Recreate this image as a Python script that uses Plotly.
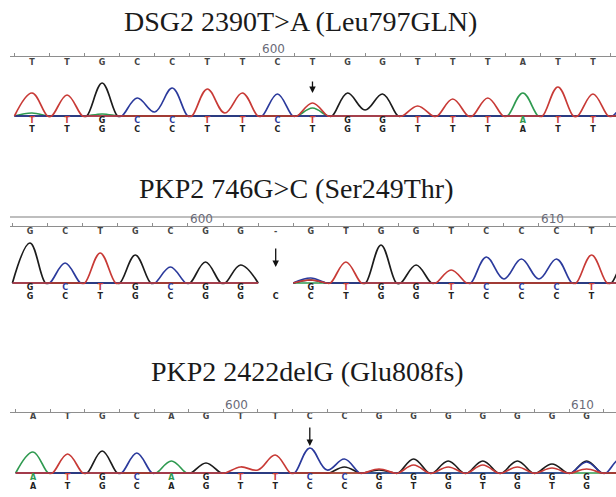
import plotly.graph_objects as go

W, H = 616, 497

# ---------------- data ----------------
# Panel 1 : DSG2
P1_TITLE = "DSG2 2390T>A (Leu797GLN)"
P1_TOP = list("TTGCCTTCTGGTTTATTC")
P1_COLOR = list("TTGCCTTCTGGTTTATTC")
P1_BLACK = list("TTGCCTTCTGGTTTATTC")
P1_A = [3, 0, 2, 0, 0, 0, 0, 0, 8, 0, 0, 0, 0, 0, 23, 0, 0, 0]
P1_C = [0, 0, 0, 18, 28, 0, 0, 22, 0, 0, 0, 0, 0, 0, 0, 0, 0, 14]
P1_G = [0, 0, 33, 0, 0, 0, 0, 0, 0, 23, 22, 0, 0, 0, 0, 0, 0, 0]
P1_T = [23, 21, 0, 0, 0, 27, 23, 0, 13, 0, 0, 10, 17, 18, 0, 29, 22, 0]
P1_VALLEYS = [("C", 4, 4), ("T", 6, 3), ("G", 10, 6)]
P1_MARK_LABELS = ["600"]
P1_MARK_AT = [6.5]
P1_ARROW_AT = 8

# Panel 2 : PKP2 746G>C
P2_TITLE = "PKP2 746G>C (Ser249Thr)"
P2_TOP = list("GCTGCGG-GTGGTCCCTG")
P2_COLOR = list("GCTGCGG GTGGTCCCTG")
P2_BLACK = list("GCTGCGGCCTGGTCCCTG")
P2_A = [0, 0, 0, 0, 0, 0, 0, 0, 0, 0, 0, 0, 0, 0, 0, 0, 0, 0]
P2_C = [0, 20, 0, 0, 16, 0, 0, 0, 5, 0, 0, 0, 0, 26, 24, 24, 0, 0]
P2_G = [40, 0, 0, 28, 0, 21, 18, 0, 3, 0, 38, 18, 0, 0, 0, 0, 0, 25]
P2_T = [0, 0, 30, 0, 0, 0, 0, 0, 3, 21, 0, 0, 13, 0, 0, 0, 28, 0]
P2_VALLEYS = [("C", 14, 4), ("C", 15, 4)]
P2_MARK_LABELS = ["600", "610"]
P2_MARK_AT = [4.5, 14.5]
P2_ARROW_AT = 7

# Panel 3 : PKP2 2422delG
P3_TITLE = "PKP2 2422delG (Glu808fs)"
P3_TOP = list("ATGCAGTTCCGGGGGGGC")
P3_COLOR = list("ATGCAGTTCCGGGGGGGC")
P3_BLACK = list("ATGCAGTTCCGTGTGTGC")
P3_A = [21, 0, 0, 0, 12, 0, 0, 0, 0, 0, 0, 0, 0, 0, 0, 0, 0, 0]
P3_C = [0, 0, 0, 20, 0, 0, 0, 0, 25, 14, 0, 0, 0, 0, 0, 0, 11, 15]
P3_G = [0, 0, 22, 0, 0, 10, 0, 0, 0, 6, 3, 14, 12, 12, 12, 9, 12, 0]
P3_T = [0, 19, 0, 0, 0, 0, 6, 18, 0, 0, 4, 8, 6, 8, 6, 5, 4, 0]
P3_VALLEYS = [("T", 7, 3), ("C", 9, 3)]
P3_MARK_LABELS = ["600", "610"]
P3_MARK_AT = [5.5, 15.5]
P3_ARROW_AT = 8

# ---------------- style / layout ----------------
COLORS = {"A": "#2f9a50", "C": "#2b3a9c", "G": "#1c1c1c", "T": "#c83a36"}
DRAW_ORDER = ["A", "G", "C", "T"]
EPS = 0.06

PANELS = [
    dict(title=P1_TITLE, top_seq=P1_TOP, col_seq=P1_COLOR, blk_seq=P1_BLACK,
         h={"A": P1_A, "C": P1_C, "G": P1_G, "T": P1_T}, valleys=P1_VALLEYS,
         marks=(P1_MARK_LABELS, P1_MARK_AT), arrow_at=P1_ARROW_AT, arrow=(23, 36),
         top=57, base=116, bottom=136, x0=32, step=35.06,
         title_x=300, title_y=22, rows=(53, -5, -14), extra_line=None),
    dict(title=P2_TITLE, top_seq=P2_TOP, col_seq=P2_COLOR, blk_seq=P2_BLACK,
         h={"A": P2_A, "C": P2_C, "G": P2_G, "T": P2_T}, valleys=P2_VALLEYS,
         marks=(P2_MARK_LABELS, P2_MARK_AT), arrow_at=P2_ARROW_AT, arrow=(16, 36),
         top=227, base=283, bottom=305, x0=30, step=35.1,
         title_x=296, title_y=188, rows=(51, -5, -14), extra_line=217),
    dict(title=P3_TITLE, top_seq=P3_TOP, col_seq=P3_COLOR, blk_seq=P3_BLACK,
         h={"A": P3_A, "C": P3_C, "G": P3_G, "T": P3_T}, valleys=P3_VALLEYS,
         marks=(P3_MARK_LABELS, P3_MARK_AT), arrow_at=P3_ARROW_AT, arrow=(27, 47),
         top=413, base=473, bottom=497, x0=33, step=34.6,
         title_x=307, title_y=371, rows=(56, -5, -14), extra_line=None),
]

AXIS_LEFT_PX = 10


def channel_points(heights, calls, valleys, ch):
    vmap = {k: v for c, k, v in valleys if c == ch}
    xs, ys = [], []
    n = len(heights)
    for k in range(n):
        if calls[k] == "-":
            if k > 0 and calls[k - 1] != "-":
                xs.append(k - 0.5); ys.append(0)
            xs.append(None); ys.append(None)
            continue
        left_open = (k == 0) or calls[k - 1] == "-"
        if left_open:
            xs.append(k - 0.5); ys.append(0)
        elif vmap.get(k, 0):
            xs.append(k - 0.5); ys.append(vmap[k])
        else:
            xs += [k - 0.5 - EPS, k - 0.5 + EPS]; ys += [0, 0]
        xs.append(k); ys.append(heights[k])
    xs.append(n - 0.5); ys.append(0)
    return xs, ys


fig = go.Figure()
layout = dict(width=W, height=H, margin=dict(l=0, r=0, t=0, b=0), autosize=False,
              paper_bgcolor="white", plot_bgcolor="white", showlegend=False)
annotations = []
shapes = []

for i, p in enumerate(PANELS):
    sfx = "" if i == 0 else str(i + 1)
    xa, ya = "x" + sfx, "y" + sfx
    r0 = (AXIS_LEFT_PX - p["x0"]) / p["step"]
    r1 = (W - p["x0"]) / p["step"]
    layout["xaxis" + sfx] = dict(
        domain=[AXIS_LEFT_PX / W, 1], range=[r0, r1], side="top", anchor=ya,
        showline=True, linecolor="#8e8e8e", linewidth=1.5,
        ticks="outside", ticklen=3, tickwidth=1, tickcolor="#8e8e8e",
        tickvals=[k + 0.5 for k in range(-1, 18)], showticklabels=False,
        showgrid=False, zeroline=False, fixedrange=True)
    layout["yaxis" + sfx] = dict(
        domain=[1 - p["bottom"] / H, 1 - p["top"] / H],
        range=[p["base"] - p["bottom"], p["base"] - p["top"]],
        visible=False, fixedrange=True)

    for ch in DRAW_ORDER:
        xs, ys = channel_points(p["h"][ch], p["top_seq"], p["valleys"], ch)
        fig.add_trace(go.Scatter(
            x=xs, y=ys, xaxis=xa, yaxis=ya, mode="lines",
            line=dict(color=COLORS[ch], width=1.7, shape="spline",
                      smoothing=1.1, simplify=False),
            connectgaps=False, hoverinfo="skip"))

    # letter rows: only bases whose centre lies inside the picture
    n_vis = sum(1 for k in range(len(p["top_seq"])) if p["x0"] + k * p["step"] < W - 6)
    idx = list(range(n_vis))
    top_y, col_y, blk_y = p["rows"]
    fig.add_trace(go.Scatter(
        x=idx, y=[top_y] * n_vis, xaxis=xa, yaxis=ya, mode="text",
        text=p["top_seq"][:n_vis], cliponaxis=False, hoverinfo="skip",
        textfont=dict(family="DejaVu Sans", size=8, color="#444444", weight="bold")))
    fig.add_trace(go.Scatter(
        x=idx, y=[col_y] * n_vis, xaxis=xa, yaxis=ya, mode="text",
        text=p["col_seq"][:n_vis], cliponaxis=False, hoverinfo="skip",
        textfont=dict(family="DejaVu Sans", size=8, weight="bold",
                      color=[COLORS.get(c, "#555") for c in p["col_seq"][:n_vis]])))
    fig.add_trace(go.Scatter(
        x=idx, y=[blk_y] * n_vis, xaxis=xa, yaxis=ya, mode="text",
        text=p["blk_seq"][:n_vis], cliponaxis=False, hoverinfo="skip",
        textfont=dict(family="DejaVu Sans", size=8, color="#222222", weight="bold")))

    # title
    annotations.append(dict(
        text=p["title"], xref="paper", yref="paper",
        x=p["title_x"] / W, y=1 - p["title_y"] / H, xanchor="center", yanchor="middle",
        showarrow=False, font=dict(family="Liberation Serif, Times New Roman, serif",
                                   size=28, color="#1a1a1a")))
    # position marks
    for lab, at in zip(*p["marks"]):
        annotations.append(dict(
            text=lab, xref=xa, yref=ya, x=at, y=p["base"] - p["top"],
            xanchor="left", yanchor="bottom", showarrow=False, xshift=0, yshift=-1,
            font=dict(family="DejaVu Sans", size=12, color="#6a6a78")))
    # arrow
    tip, tail = p["arrow"]
    annotations.append(dict(
        text="", xref=xa, yref=ya, axref=xa, ayref=ya,
        x=p["arrow_at"], y=tip, ax=p["arrow_at"], ay=tail,
        showarrow=True, arrowhead=2, arrowsize=1, arrowwidth=1.3, arrowcolor="#111"))
    if p["extra_line"] is not None:
        yl = 1 - p["extra_line"] / H
        shapes.append(dict(type="line", xref="paper", yref="paper",
                           x0=AXIS_LEFT_PX / W, x1=1, y0=yl, y1=yl,
                           line=dict(color="#a8a8a8", width=1.5)))

layout["annotations"] = annotations
layout["shapes"] = shapes
fig.update_layout(**layout)
fig.write_html("out.html",
               config={"displayModeBar": False, "staticPlot": True},
               post_script="document.body.style.margin='0';"
                           "document.body.style.overflow='hidden';")
